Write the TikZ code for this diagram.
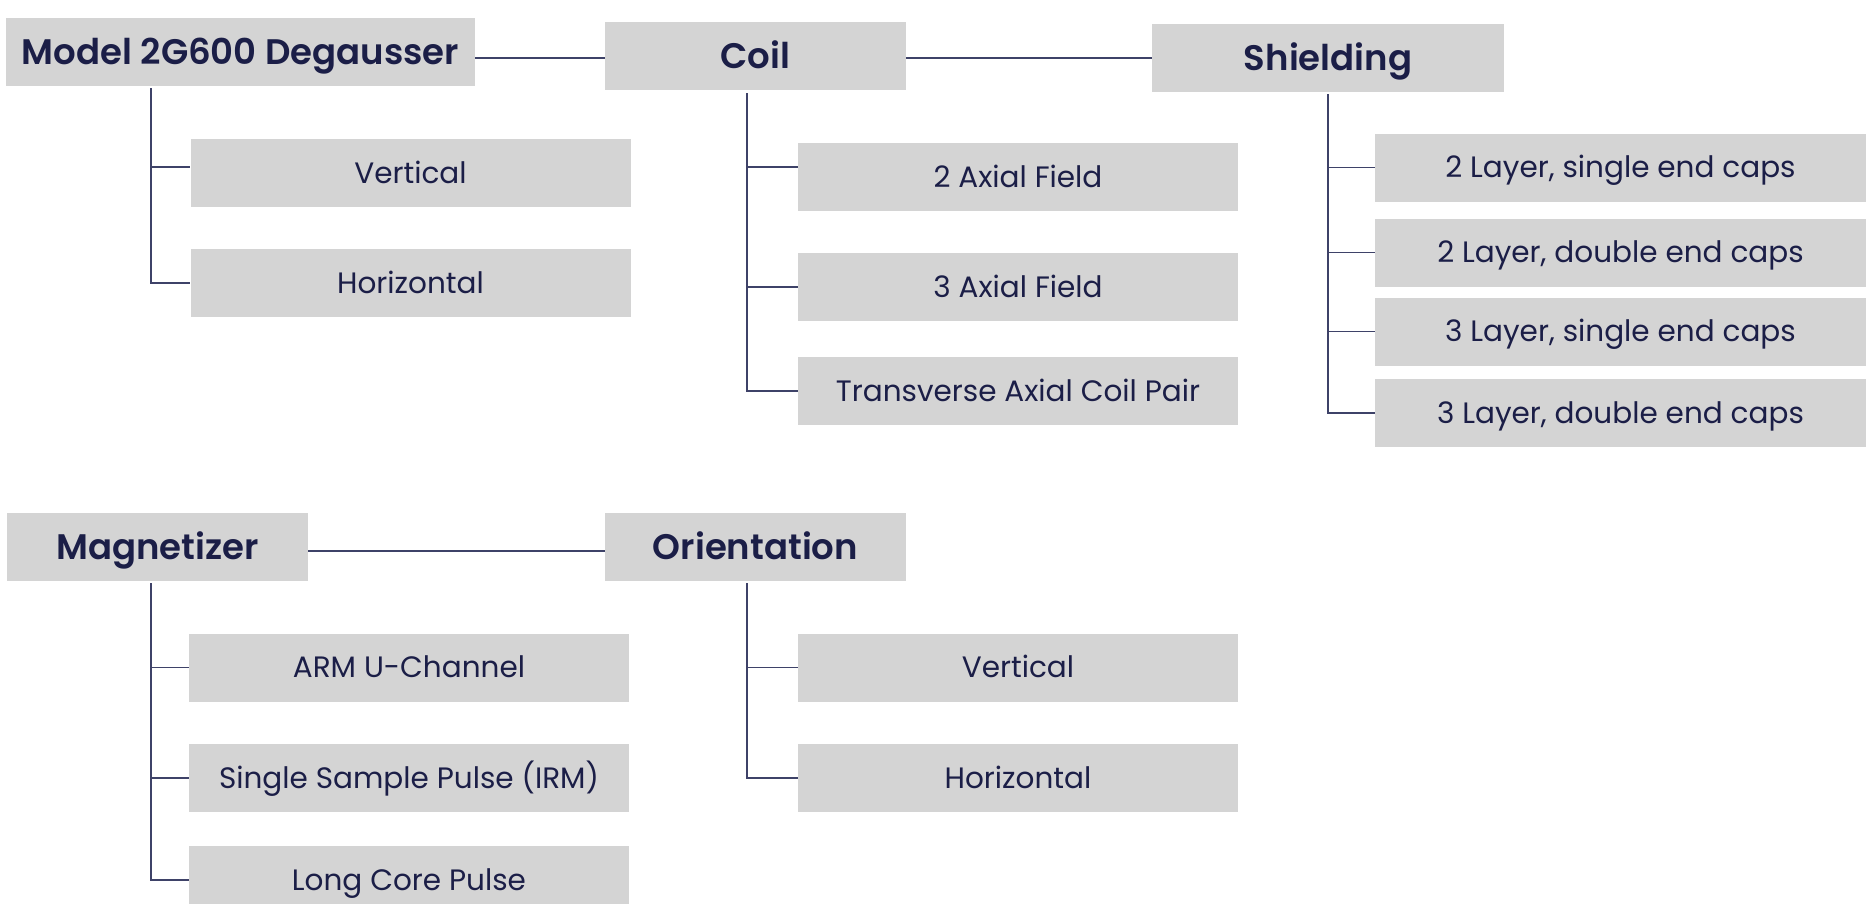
\documentclass[tikz,border=0pt]{standalone}
\usepackage{fontspec}
\setmainfont{Poppins}
\newfontfamily\headfont{Poppins SemiBold}
\definecolor{navy}{HTML}{1B1E47}
\definecolor{boxgray}{HTML}{D4D4D4}
\definecolor{linknavy}{HTML}{3E4268}
\tikzset{
	head/.style={fill=boxgray, text=navy, inner sep=0pt, minimum height=68pt,
		text height=24.8pt, text depth=0pt,
		font=\headfont\fontsize{35.5}{42}\selectfont},
	leaf/.style={fill=boxgray, text=navy, inner sep=0pt, minimum height=68pt,
		minimum width=440pt, text height=20.6pt, text depth=0pt,
		font=\fontsize{29.5}{35}\selectfont},
	link/.style={draw=linknavy, line width=1.6pt}
}
\begin{document}
\begin{tikzpicture}[x=1pt,y=-1pt]
\useasboundingbox (0,0) rectangle (1866,903);

% top row
\node[head, minimum width=469pt] (model) at (240.5,52) {Model 2G600 Degausser};
\node[head, minimum width=301pt] (coil) at (755.5,56) {Coil};
\node[head, minimum width=352pt] (shield) at (1328,58) {Shielding};
\draw[link] (model.east |- shield.west) -- (coil.west |- shield.west);
\draw[link] (coil.east |- shield.west) -- (shield.west);

	\node[leaf] (mvert) at (410.5,173) {Vertical};
	\node[leaf] (mhoriz) at (410.5,283) {Horizontal};
	\coordinate (mtop) at (151,88);
	\draw[link] (mtop) |- ([yshift=6pt]mvert.west);
	\draw[link] (mtop) |- (mhoriz.west);

	\node[leaf] (ax2) at (1018,177) {2 Axial Field};
	\node[leaf] (ax3) at (1018,287) {3 Axial Field};
	\node[leaf] (pair) at (1018,391) {Transverse Axial Coil Pair};
	\coordinate (ctop) at (747,93);
	\draw[link] (ctop) |- ([yshift=10pt]ax2.west);
	\draw[link] (ctop) |- (ax3.west);
	\draw[link] (ctop) |- (pair.west);

	\node[leaf, minimum width=491pt] (ls2) at (1620.5,167.5) {2 Layer, single end caps};
	\node[leaf, minimum width=491pt] (ld2) at (1620.5,252.5) {2 Layer, double end caps};
	\node[leaf, minimum width=491pt] (ls3) at (1620.5,331.5) {3 Layer, single end caps};
	\node[leaf, minimum width=491pt] (ld3) at (1620.5,413) {3 Layer, double end caps};
	\coordinate (stop) at (shield.center |- 0,94);
	\draw[link] (stop) |- (ls2.west);
	\draw[link] (stop) |- (ld2.west);
	\draw[link] (stop) |- (ls3.west);
	\draw[link] (stop) |- (ld3.west);

% bottom row
\node[head, minimum width=301pt] (mag) at (157.5,547) {Magnetizer};
\node[head, minimum width=301pt] (orient) at (755.5,547) {Orientation};
\draw[link] ([yshift=-4pt]mag.east) -- ([yshift=-4pt]orient.west);

	\node[leaf] (arm) at (409,667.5) {ARM U-Channel};
	\node[leaf] (irm) at (409,778) {Single Sample Pulse (IRM)};
	\node[leaf] (core) at (409,880) {Long Core Pulse};
	\coordinate (gtop) at (151,583);
	\draw[link] (gtop) |- (arm.west);
	\draw[link] (gtop) |- (irm.west);
	\draw[link] (gtop) |- (core.west);

	\node[leaf] (overt) at (1018,667.5) {Vertical};
	\node[leaf] (ohoriz) at (1018,778) {Horizontal};
	\coordinate (otop) at (747,583);
	\draw[link] (otop) |- (overt.west);
	\draw[link] (otop) |- (ohoriz.west);

\end{tikzpicture}
\end{document}
